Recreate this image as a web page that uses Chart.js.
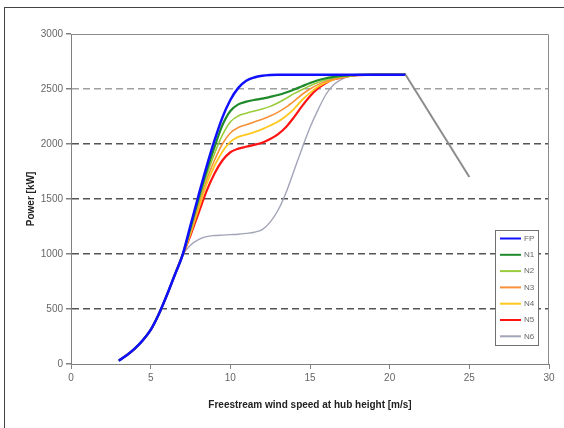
<!DOCTYPE html>
<html>
<head>
<meta charset="utf-8">
<script src="https://cdn.jsdelivr.net/npm/chart.js@4.4.1/dist/chart.umd.min.js"></script>
<style>
  body { margin: 0; background: #fff; }
  #wrap { position: relative; width: 564px; height: 428px; }
  #frame { position: absolute; left: 4px; top: 7px; width: 600px; height: 600px;
    border-left: 1px solid #444; border-top: 1px solid #444; pointer-events: none; }
</style>
</head>
<body>
<div id="wrap">
  <canvas id="chart" width="564" height="428"></canvas>
  <div id="frame"></div>
</div>
<script>
// wind speed [m/s]
const windSpeed = [3, 3.5, 4, 4.5, 5, 5.5, 6, 6.5, 7,
  7.5, 8, 8.5, 9, 9.5, 10, 10.5, 11, 11.5, 12, 12.5, 13, 13.5, 14, 14.5,
  15, 15.5, 16, 16.5, 17, 17.5, 18, 19, 20, 21]

// all curves are the same up to 7 m/s
const lowPower = [30, 80, 140, 215, 310, 450, 620, 805, 990]

const powerFP = [1260, 1530, 1790, 2030, 2240, 2400, 2510, 2575, 2605, 2620, 2627, 2630, 2630, 2630,
  2630, 2630, 2630, 2630, 2630, 2630, 2630, 2630, 2630, 2630, 2630]
const powerN1 = [1240, 1500, 1750, 1970, 2170, 2300, 2360, 2385, 2400, 2412, 2428, 2445, 2468, 2495,
  2525, 2555, 2580, 2598, 2610, 2620, 2625, 2628, 2630, 2630, 2630]
const powerN2 = [1220, 1470, 1710, 1910, 2080, 2200, 2255, 2280, 2300, 2318, 2342, 2375, 2415, 2458,
  2495, 2530, 2560, 2585, 2602, 2615, 2622, 2627, 2630, 2630, 2630]
const powerN3 = [1200, 1440, 1670, 1850, 2000, 2100, 2150, 2175, 2200, 2225, 2255, 2290, 2335, 2390,
  2450, 2500, 2540, 2570, 2592, 2608, 2620, 2627, 2630, 2630, 2630]
const powerN4 = [1185, 1410, 1630, 1800, 1930, 2020, 2065, 2085, 2108, 2135, 2168, 2205, 2255, 2320,
  2400, 2465, 2520, 2560, 2588, 2605, 2618, 2626, 2630, 2630, 2630]
const powerN5 = [1170, 1370, 1570, 1730, 1850, 1925, 1958, 1975, 1992, 2012, 2045, 2090, 2155, 2245,
  2345, 2435, 2505, 2555, 2588, 2605, 2618, 2626, 2630, 2630, 2630]
const powerN6 = [1080, 1130, 1158, 1168, 1172, 1176, 1180, 1188, 1198, 1222, 1290, 1400, 1560, 1760,
  1960, 2150, 2310, 2450, 2540, 2590, 2615, 2625, 2630, 2630, 2630]

// shut-down ramp after rated
const rampSpeed = [21, 25]
const rampPower = [2630, 1700]

const seriesNames = ['FP', 'N1', 'N2', 'N3', 'N4', 'N5', 'N6']
const seriesColors = ['#1010ff', '#1f8a2a', '#9acd3c', '#f7923a', '#ffc81e', '#ff1414', '#a2a4b8']
const seriesWidths = [2.5, 2.2, 1.6, 1.6, 1.8, 2.2, 1.4]
const seriesTails = [powerFP, powerN1, powerN2, powerN3, powerN4, powerN5, powerN6]

function toPoints(xs, ys) {
  return xs.map((x, i) => ({ x, y: ys[i] }))
}

const datasets = seriesNames.map((name, i) => ({
  label: name,
  data: toPoints(windSpeed, lowPower.concat(seriesTails[i])),
  borderColor: seriesColors[i],
  borderWidth: seriesWidths[i],
  pointRadius: 0,
  cubicInterpolationMode: 'monotone',
  fill: false
}))

datasets.unshift({
  label: '',
  data: toPoints(rampSpeed, rampPower),
  borderColor: '#8c8c8c',
  borderWidth: 2,
  pointRadius: 0,
  tension: 0,
  fill: false
})

const FONT = 'Liberation Sans, Arial, sans-serif'

const boxPlugin = {
  id: 'box',
  beforeDatasetsDraw(chart) {
    const a = chart.chartArea
    const ctx = chart.ctx
    ctx.save()
    ctx.strokeStyle = '#8a8a8a'
    ctx.lineWidth = 1
    ctx.beginPath()
    ctx.moveTo(a.left, a.top + 0.5)
    ctx.lineTo(a.right - 0.5, a.top + 0.5)
    ctx.lineTo(a.right - 0.5, a.bottom)
    ctx.stroke()
    ctx.restore()
  }
}

const legendPlugin = {
  id: 'boxLegend',
  afterDatasetsDraw(chart) {
    const ctx = chart.ctx
    const left = 495, top = 230, w = 43, h = 115
    ctx.save()
    ctx.fillStyle = '#fff'
    ctx.fillRect(left, top, w, h)
    ctx.strokeStyle = '#707070'
    ctx.lineWidth = 1
    ctx.strokeRect(left + 0.5, top + 0.5, w, h)
    ctx.font = '8px ' + FONT
    ctx.textBaseline = 'middle'
    ctx.fillStyle = '#666'
    seriesNames.forEach((name, i) => {
      const y = top + 8.5 + i * 16.3
      ctx.strokeStyle = seriesColors[i]
      ctx.lineWidth = 2
      ctx.beginPath()
      ctx.moveTo(500, y)
      ctx.lineTo(521, y)
      ctx.stroke()
      ctx.fillText(name, 524, y)
    })
    ctx.restore()
  }
}

new Chart(document.getElementById('chart'), {
  type: 'line',
  data: { datasets },
  options: {
    responsive: false,
    animation: false,
    layout: { padding: { left: 0, top: 34, right: 15, bottom: 17 } },
    plugins: {
      legend: { display: false },
      tooltip: { enabled: false }
    },
    scales: {
      x: {
        type: 'linear',
        min: 0,
        max: 30,
        ticks: { stepSize: 5, color: '#666', font: { family: FONT, size: 10 }, padding: 3, maxRotation: 0,
          callback: (v) => String(v) },
        grid: { drawOnChartArea: false, drawTicks: true, tickLength: 5, tickColor: '#808080' },
        border: { color: '#808080', width: 1 },
        title: {
          display: true,
          text: 'Freestream wind speed at hub height [m/s]',
          color: '#222',
          font: { family: FONT, size: 10, weight: 'bold' },
          padding: { top: 0, bottom: 0 }
        },
        afterFit(scale) { scale.height = 47 }
      },
      y: {
        min: 0,
        max: 3000,
        ticks: { stepSize: 500, color: '#666', font: { family: FONT, size: 10 }, padding: 3,
          callback: (v) => String(v) },
        grid: {
          drawTicks: true,
          tickLength: 5,
          tickColor: '#808080',
          lineWidth: 1.5,
          color: (ctx) => {
            const v = ctx.tick && ctx.tick.value
            if (v === 0 || v === 3000) return 'rgba(0,0,0,0)'
            return v === 2500 ? '#a0a0a0' : '#555'
          }
        },
        border: { color: '#808080', width: 1, dash: [7, 4] },
        title: {
          display: true,
          text: 'Power [kW]',
          color: '#222',
          font: { family: FONT, size: 10, weight: 'bold' },
          padding: { top: 25, bottom: 0 }
        },
        afterFit(scale) { scale.width = 71 }
      }
    }
  },
  plugins: [boxPlugin, legendPlugin]
})
</script>
</body>
</html>
